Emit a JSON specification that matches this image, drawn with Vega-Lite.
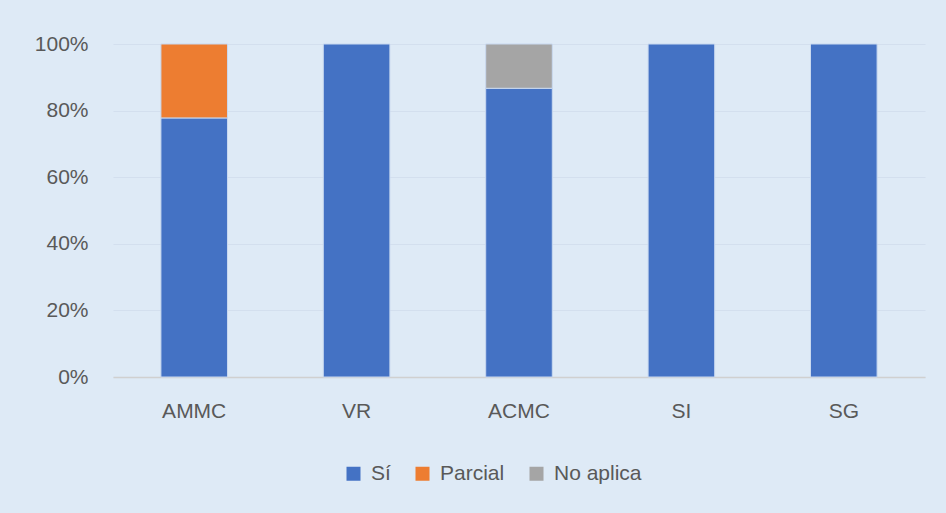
{
  "$schema": "https://vega.github.io/schema/vega-lite/v6.json",
  "autosize": "none",
  "width": 812,
  "height": 333,
  "padding": {"left": 113, "top": 44, "right": 21, "bottom": 136},
  "background": "#DEEAF6",
  "config": {
    "view": {"stroke": null},
    "font": "Liberation Sans"
  },
  "data": {
    "values": [
      {"cat": "AMMC", "resp": "Sí", "val": 0.778, "ord": 1},
      {"cat": "AMMC", "resp": "Parcial", "val": 0.222, "ord": 2},
      {"cat": "VR", "resp": "Sí", "val": 1.0, "ord": 1},
      {"cat": "ACMC", "resp": "Sí", "val": 0.867, "ord": 1},
      {"cat": "ACMC", "resp": "No aplica", "val": 0.133, "ord": 3},
      {"cat": "SI", "resp": "Sí", "val": 1.0, "ord": 1},
      {"cat": "SG", "resp": "Sí", "val": 1.0, "ord": 1}
    ]
  },
  "mark": {"type": "bar", "stroke": "#C9D9F0", "strokeWidth": 1},
  "encoding": {
    "x": {
      "field": "cat", "type": "nominal", "sort": ["AMMC", "VR", "ACMC", "SI", "SG"],
      "scale": {"paddingInner": 0.59, "paddingOuter": 0.295},
      "axis": {"title": null, "labelAngle": 0, "ticks": false, "domainColor": "#D0D0D0", "domainWidth": 1.5, "labelColor": "#595959", "labelFontSize": 21, "labelPadding": 23, "labelFont": "Liberation Sans"}
    },
    "y": {
      "field": "val", "type": "quantitative", "stack": "zero",
      "scale": {"domain": [0, 1]},
      "axis": {"title": null, "format": ".0%", "values": [0, 0.2, 0.4, 0.6, 0.8, 1], "ticks": false, "domain": false, "gridColor": "#D3DFEE", "gridWidth": 1, "labelColor": "#595959", "labelFontSize": 21, "labelPadding": 25, "labelFont": "Liberation Sans"}
    },
    "color": {
      "field": "resp", "type": "nominal",
      "scale": {"domain": ["Sí", "Parcial", "No aplica"], "range": ["#4472C4", "#ED7D31", "#A5A5A5"]},
      "legend": {"title": null, "orient": "none", "direction": "horizontal", "legendX": 230, "legendY": 419, "symbolType": "square", "symbolSize": 196, "symbolStrokeWidth": 0, "labelFontSize": 21, "labelColor": "#595959", "columnPadding": 21, "labelOffset": 7, "labelFont": "Liberation Sans"}
    },
    "order": {"field": "ord", "type": "quantitative"}
  }
}
